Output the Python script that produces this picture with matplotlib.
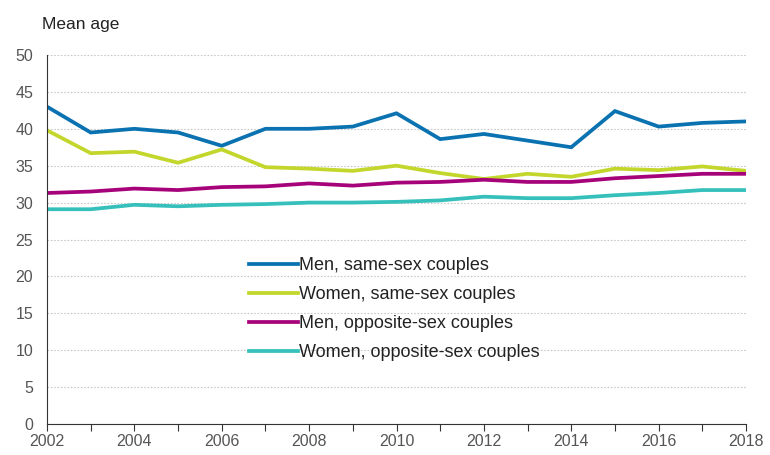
import numpy as np
import matplotlib.pyplot as plt

plt.rcParams['font.family'] = ['Liberation Sans', 'DejaVu Sans']

years = list(range(2002, 2019))

men_same = [43.0, 39.5, 40.0, 39.5, 37.7, 40.0, 40.0, 40.3, 42.1,
            38.6, 39.3, 38.4, 37.5, 42.4, 40.3, 40.8, 41.0]
women_same = [39.8, 36.7, 36.9, 35.4, 37.2, 34.8, 34.6, 34.3, 35.0,
              34.0, 33.2, 33.9, 33.5, 34.6, 34.4, 34.9, 34.3]
men_opp = [31.3, 31.5, 31.9, 31.7, 32.1, 32.2, 32.6, 32.3, 32.7,
           32.8, 33.1, 32.8, 32.8, 33.3, 33.6, 33.9, 33.9]
women_opp = [29.1, 29.1, 29.7, 29.5, 29.7, 29.8, 30.0, 30.0, 30.1,
             30.3, 30.8, 30.6, 30.6, 31.0, 31.3, 31.7, 31.7]

labels = ["Men, same-sex couples", "Women, same-sex couples",
          "Men, opposite-sex couples", "Women, opposite-sex couples"]
colors = ["#0a72b0", "#c3d62c", "#a6037a", "#35c0bc"]

fig = plt.figure(figsize=(7.7, 4.55), dpi=100)
ax = fig.add_axes([47/770, 1-424/455, (746-47)/770, (424-55)/455])

for vals, lab, col in zip([men_same, women_same, men_opp, women_opp], labels, colors):
    ax.plot(years, vals, color=col, lw=2.7, label=lab, solid_joinstyle='miter')

ax.set_xlim(2002, 2018)
ax.set_ylim(0, 50)
ax.set_yticks(range(0, 51, 5))
ax.set_xticks(years)
ax.set_xticklabels([str(y) if y % 2 == 0 else '' for y in years])
ax.yaxis.grid(True, color='#c8c8c8', ls=(0, (1.5, 1.5)), lw=0.8)
ax.set_axisbelow(True)
for s in ['top', 'right']:
    ax.spines[s].set_visible(False)
ax.spines['left'].set_color('#333333')
ax.spines['bottom'].set_color('#333333')
ax.tick_params(axis='y', length=0, pad=10, labelsize=11.5, labelcolor='#555555')
ax.tick_params(axis='x', length=5, direction='out', color='#333333', labelsize=11.5, labelcolor='#555555', pad=2)

fig.text(42/770, 1-25/455, "Mean age", fontsize=12.5, color='#222222', va='center')

leg = ax.legend(loc='upper left', bbox_to_anchor=(249/770, 1-257/455), bbox_transform=fig.transFigure,
                frameon=False, fontsize=13, handlelength=2.7, handletextpad=0.05, labelspacing=0.67,
                borderaxespad=0, borderpad=0)
for t in leg.get_texts():
    t.set_color('#222222')

fig.savefig("out.png", dpi=100)
